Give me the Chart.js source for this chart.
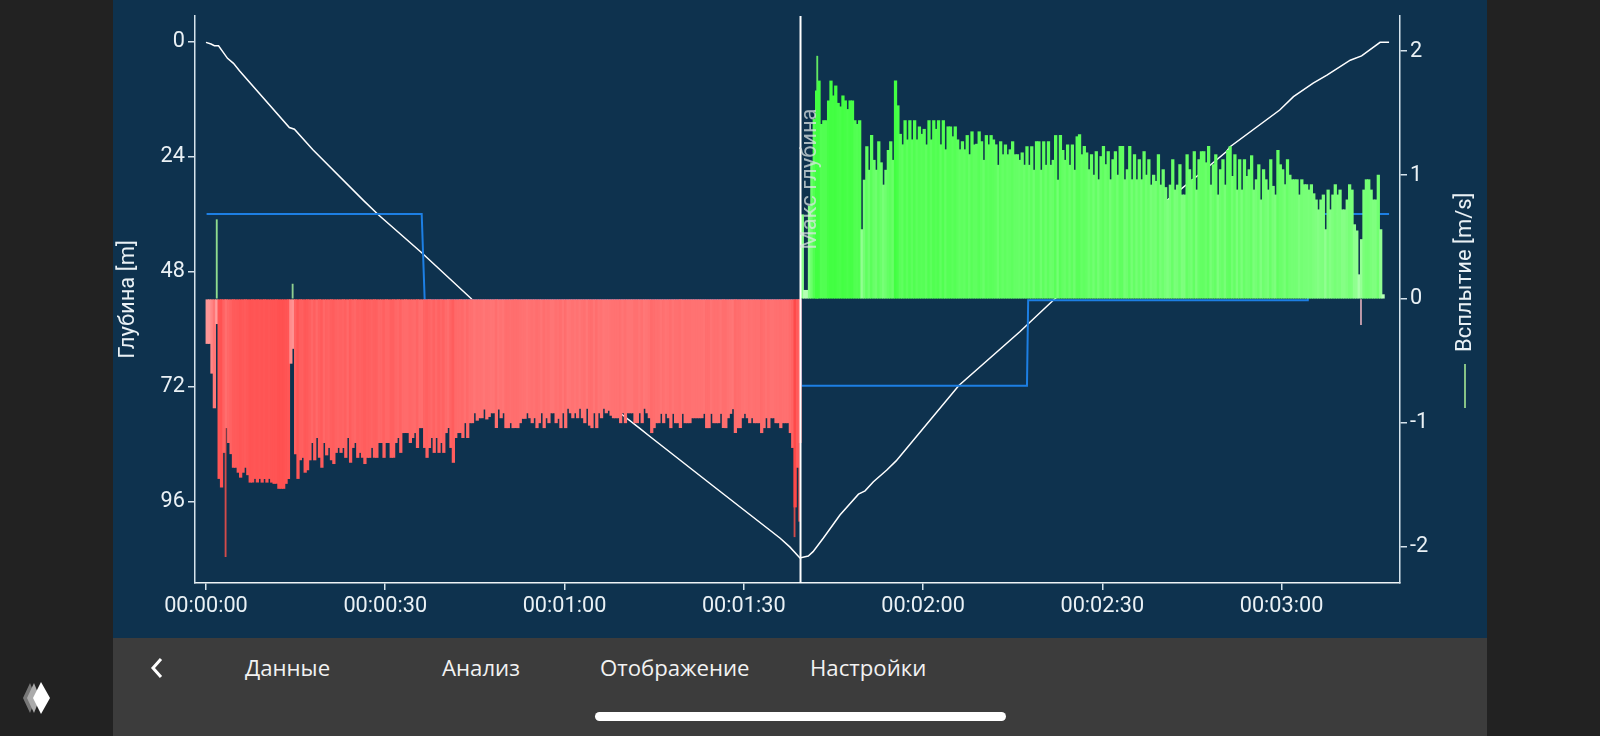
<!DOCTYPE html>
<html><head><meta charset="utf-8">
<script src="https://cdn.jsdelivr.net/npm/chart.js@4"></script>
<style>
html,body{margin:0;padding:0;width:1600px;height:736px;overflow:hidden;background:#222222}
#panel{position:absolute;left:113px;top:0;width:1374px;height:638px;background:#0e324e}
#bar{position:absolute;left:113px;top:638px;width:1374px;height:98px;background:#3c3c3c}
canvas{position:absolute;left:0;top:0}
.tab{position:absolute;top:653px;color:#f2f2f2;font:22.2px "Open Sans",sans-serif;line-height:30px;white-space:nowrap}
#home{position:absolute;left:595px;top:712px;width:411px;height:9px;border-radius:5px;background:#fff}
svg{position:absolute}
</style></head><body>
<div id="panel"><canvas id="c" width="1374" height="638"></canvas></div>
<div id="bar"></div>
<span class="tab" style="left:245px">Данные</span>
<span class="tab" style="left:442px">Анализ</span>
<span class="tab" style="left:600px">Отображение</span>
<span class="tab" style="left:810px">Настройки</span>
<div id="home"></div>
<svg style="left:148px;top:656px" width="16" height="24"><path d="M13 3 L5 12 L13 21" fill="none" stroke="#fff" stroke-width="3"/></svg>
<svg style="left:20px;top:680px" width="36" height="36"><path d="M10 3 L3 18 L10 33 L16 18Z" fill="#777"/><path d="M14 3 L7 18 L14 33 L20 18Z" fill="#aaa"/><path d="M21 2 L13 18 L21 34 L30 18Z" fill="#fff"/></svg>
<script>
const sampleStep = 0.4;
const firstSample = 0.2;
const timeTicks = [0,30,60,90,120,150,180];
const depthTicks = [0,24,48,72,96];
const speedTicks = [-2,-1,0,1,2];
const descentSpeeds = [.36,.36,.6,.88,.2,1.45,1.52,1.24,1.04,1.16,1.25,1.36,1.36,1.4,1.44,1.4,1.36,1.42,1.48,1.48,1.45,1.48,1.45,1.48,1.45,1.48,1.45,1.48,1.49,1.49,1.53,1.53,1.53,1.49,1.45,.52,.4,1.25,1.45,1.3,1.28,1.4,1.38,1.3,1.16,1.3,1.12,1.28,1.36,1.16,1.26,1.2,1.3,1.33,1.24,1.2,1.24,1.2,1.28,1.12,1.32,1.2,1.16,1.28,1.24,1.28,1.33,1.28,1.28,1.2,1.28,1.28,1.16,1.16,1.28,1.16,1.16,1.28,1.28,1.16,1.12,1.24,1.08,1.08,1.08,1.16,1.12,1.08,1.2,1.04,1.04,1.2,1.28,1.2,1.12,1.24,1.12,1.24,1.16,1.24,1.08,1.04,1.2,1.32,1.12,1.08,1.08,1.12,1,1.12,1,1,.92,.98,.96,.96,.89,.97,.95,
.92,.92,1.04,.89,.96,.92,1.04,1.04,1,1.04,1.04,1.04,1,.965,.965,.92,.96,1,.96,1.04,1,.92,1.04,.96,1,.92,.92,1,.965,1.04,.92,1.04,.884,.92,.96,.92,.96,.884,.96,1,.884,1.02,1.04,.92,1.04,.92,.96,.884,.92,.9,.94,.96,.96,.96,1,.92,1,.92,.92,.92,1,1,.92,1,.884,.92,.96,
1.08,1.04,1,1,.925,1,.925,.96,1.04,.925,1,1,1.04,.925,1,1,1,.96,.96,.96,.96,.96,.925,1.04,1.04,.925,1,1,1,.925,1.04,1.04,.96,.925,.887,1.08,1.04,1.04,.96,.925,.96,1,.96,1,1,1,1.08,1.04,.96,1.04,.96,.96,1,1,1.04,1,1,1,1.08,1.2,1.68,1.36,1.16];
const ascentSpeeds = [.68,.07,.07,.75,1.1,1.45,1.68,1.76,1.41,1.44,1.44,1.6,1.76,1.64,1.72,1.58,1.55,1.64,1.6,1.53,1.6,1.6,1.44,1.41,1.44,.56,.96,1.23,1.04,1.32,1.12,1.04,1.27,1.1,.92,1.04,1.2,1.27,1.12,1.76,1.56,1.33,1.245,1.44,1.285,1.44,1.285,1.44,1.285,1.39,1.33,1.37,1.245,1.44,1.285,1.44,1.37,1.44,1.245,1.44,1.205,1.39,1.39,1.31,1.39,1.285,1.205,1.27,1.205,1.32,1.165,1.35,1.245,1.25,1.35,1.27,1.12,1.32,1.245,1.32,1.285,1.245,1.08,1.27,1.165,1.245,1.165,1.205,1.27,1.165,1.165,1.12,1.18,1.08,1.23,1.08,1.23,1.04,1.27,1.27,1.04,1.27,1.08,1.27,1.08,1.12,1.32,.96,1.32,1.2,1.12,1.245,1.08,1.245,1.04,1.31,
1.326,1.165,1.232,1.18,1.044,1.165,1,1.19,.963,1.15,1.232,1.085,1.19,.963,1.125,1.19,1,1.232,1.232,.963,1.044,1.232,.963,1.165,.963,1.125,.963,1.19,1,1.125,.92,1,.95,1.165,.92,1.044,.9,.8,.92,1.125,.88,.92,1.085,.84,.84,1.165,1.044,.963,1.19,.88,1.125,1.19,1.19,1.1,1.232,.92,1.085,1.165,.84,1.044,1.125,.92,1.2,
1.23,.99,1.165,.88,1.125,.88,1.125,.99,1.044,1.157,.88,.963,1.084,.8,1.044,.963,.88,1.125,.91,.84,1.2,1.084,1.044,.923,1.125,1,.963,.963,.963,.84,.963,.923,.923,.88,.923,.85,.8,.72,.8,.84,.56,.88,.72,.84,.923,.84,.88,.72,.72,.8,.923,.88,.6,.55,.196,.48,.88,.963,.963,.88,.8,.8,1,.56,.035];
const spikeTimes = [1.8,3.28,14.5,98.5,99.27,102.3,193.3];
const spikeSpeeds = [.64,-2.08,.12,-1.92,-1.795,1.96,-.207];
const spikeColors = ['#8fdc8f','#d24b4b','#8fcf8f','#d24b4b','#d24b4b','#62e862','#c9a0ae'];
const depthTimes = [0,.84,1.4,2.1,2.8,3.6,4.6,5.6,13.95,14.8,17.85,26.3,28.8,36.1,44.5,69.3,72.6,74.3,85.2,96.1,97.7,99.4,100.8,101.6,103.3,106.1,109.2,110.3,111.7,113.9,115.5,126,136.2,141.8,161,166.4,170.8,171.4,179.7,182,185.3,187.6,191.5,193.4,196.5,198];
const depthValues = [.07,.42,.77,.77,2,3.4,4.45,6,17.85,18.2,22.45,33,36,44,53.7,77.45,80.65,82.35,93,103.6,105.4,107.7,107.3,106.4,103.6,98.75,94.4,93.7,91.8,89.4,87.45,71.7,60.5,53.9,32.9,27.45,22.85,21.85,14.2,11.4,8.6,6.9,3.8,2.9,.07,.07];
const targetTimes = [.1,36.1,36.6,99.5,99.6,137.4,137.6,184.4,185,198];
const targetSpeeds = [.686,.686,-.011,-.011,-.7,-.7,-.011,-.011,.686,.686];
const maxDepthTime = 99.5;
const maxDepthLabel = 'Макс глубина';
const depthTitle = 'Глубина [m]';
const speedTitle = 'Всплытие [m/s]';

const FONT = 'Roboto, sans-serif';
const AXIS = '#d5e3ec';
const TEXT = '#eaf1f5';
const greenShade = v => { const k = Math.max(66, Math.round(185 - 72*Math.abs(v))); return `rgb(${k},255,${k})`; };
const redShade = v => { const k = Math.round(170 - 58*Math.abs(v)); return `rgb(255,${k},${k})`; };
const fmt = s => { const p=n=>String(n).padStart(2,'0'); return `${p(Math.floor(s/3600))}:${p(Math.floor(s/60)%60)}:${p(s%60)}`; };
const zip = (xs,ys) => xs.map((x,i)=>({x,y:ys[i]}));
const descentPts = descentSpeeds.map((v,i)=>({x:firstSample+sampleStep*i,y:-v}));
const ascentPts = ascentSpeeds.map((v,i)=>({x:firstSample+sampleStep*(descentSpeeds.length+i),y:v}));
const barOpts = {type:'bar',yAxisID:'ySpeed',grouped:false,barThickness:2.6,borderWidth:0};

const overlay = {
  id:'overlay',
  afterDatasetsDraw(chart){
    const {ctx,scales:{x,ySpeed}} = chart;
    ctx.save();
    ctx.translate(x.getPixelForValue(maxDepthTime)+9.5, 179);
    ctx.rotate(-Math.PI/2);
    ctx.textAlign='center';ctx.textBaseline='middle';
    ctx.font='22px '+FONT;ctx.fillStyle='rgba(222,228,228,0.75)';
    ctx.fillText(maxDepthLabel,0,0);
    ctx.restore();
    ctx.save();
    const rx = chart.width-22;
    ctx.translate(rx, ySpeed.getPixelForValue(.215));
    ctx.rotate(-Math.PI/2);
    ctx.textAlign='center';ctx.textBaseline='middle';
    ctx.font='22px '+FONT;ctx.fillStyle=TEXT;
    ctx.fillText(speedTitle,0,0);
    ctx.restore();
    ctx.strokeStyle='#86c286';ctx.lineWidth=2;
    ctx.beginPath();ctx.moveTo(rx,364);ctx.lineTo(rx,408);ctx.stroke();
  }
};

new Chart(document.getElementById('c'),{
  type:'bar',
  plugins:[overlay],
  data:{datasets:[
    {type:'line',label:maxDepthLabel,data:[{x:maxDepthTime,y:-2.3},{x:maxDepthTime,y:2.3}],yAxisID:'ySpeed',borderColor:'#ffffff',borderWidth:2,pointRadius:0,order:0},
    {...barOpts,label:'Подъём',data:ascentPts,order:1,backgroundColor:c=>greenShade(c.parsed.y)},
    {...barOpts,label:'Спуск',data:descentPts,order:1,backgroundColor:c=>redShade(c.parsed.y)},
    {type:'bar',yAxisID:'ySpeed',grouped:false,barThickness:1.2,borderWidth:0,label:'Пики',data:zip(spikeTimes,spikeSpeeds),order:2,backgroundColor:spikeColors},
    {type:'line',label:'Цель',data:zip(targetTimes,targetSpeeds),yAxisID:'ySpeed',borderColor:'#1d7fe3',borderWidth:2,pointRadius:0,tension:0,order:3},
    {type:'line',label:'Глубина',data:zip(depthTimes,depthValues),yAxisID:'yDepth',borderColor:'#ffffff',borderWidth:1.5,pointRadius:0,tension:0,order:4}
  ]},
  options:{
    responsive:false,animation:false,devicePixelRatio:1,
    layout:{padding:{top:16,left:0,right:0,bottom:0}},
    plugins:{legend:{display:false},tooltip:{enabled:false}},
    scales:{
      x:{type:'linear',offset:false,position:'bottom',min:-1.84,max:199.83,
        afterBuildTicks:a=>{a.ticks=timeTicks.map(value=>({value}))},
        afterFit:a=>{a.height=55},
        border:{color:'#eef3f5',width:1.5},
        grid:{offset:false,drawOnChartArea:false,color:AXIS,tickLength:7,lineWidth:1.5},
        ticks:{color:TEXT,font:{family:FONT,size:21.7},padding:4,maxRotation:0,autoSkip:false,callback:v=>fmt(v)}},
      yDepth:{type:'linear',position:'left',reverse:true,min:-5.43,max:112.94,
        afterBuildTicks:a=>{a.ticks=depthTicks.map(value=>({value}))},
        afterFit:a=>{a.width=82},
        title:{display:true,text:depthTitle,color:TEXT,font:{family:FONT,size:22},padding:{top:2,bottom:0}},
        border:{color:AXIS,width:1.5},
        grid:{drawOnChartArea:false,color:AXIS,tickLength:7,lineWidth:1.5},
        ticks:{color:TEXT,font:{family:FONT,size:21.7},padding:3,autoSkip:false,callback:v=>String(v)}},
      ySpeed:{type:'linear',position:'right',min:-2.293,max:2.284,
        afterBuildTicks:a=>{a.ticks=speedTicks.map(value=>({value}))},
        afterFit:a=>{a.width=87},
        border:{color:AXIS,width:1.5},
        grid:{drawOnChartArea:false,color:AXIS,tickLength:7,lineWidth:1.5},
        ticks:{color:TEXT,font:{family:FONT,size:21.7},padding:3,autoSkip:false,callback:v=>String(v)}}
    }
  }
});
</script>
</body></html>
